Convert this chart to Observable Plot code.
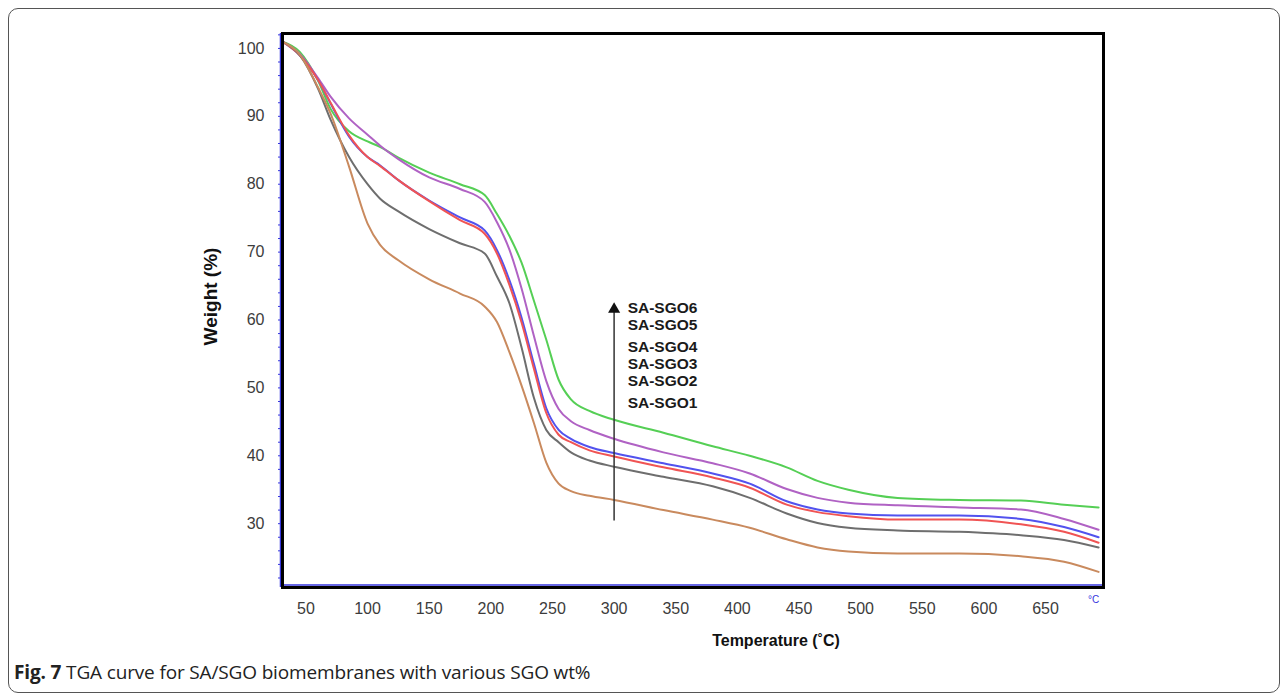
<!DOCTYPE html>
<html>
<head>
<meta charset="utf-8">
<script src="https://cdn.jsdelivr.net/npm/d3@7"></script>
<script src="https://cdn.jsdelivr.net/npm/@observablehq/plot@0.6"></script>
<style>
  html, body { margin: 0; padding: 0; background: #fff; }
  #figure { position: relative; width: 1287px; height: 699px; overflow: hidden; background: #fff; }
  #chart { position: absolute; left: 0; top: 0; }
  #card {
    position: absolute; left: 8px; top: 8px; width: 1272px; height: 685px; z-index: 2;
    border: 1.5px solid #555; border-radius: 10px; box-sizing: border-box; pointer-events: none;
  }
  #caption {
    position: absolute; left: 14px; top: 659px; z-index: 3;
    font-family: "Open Sans", "Noto Sans", sans-serif; font-size: 19px; color: #222;
    letter-spacing: -0.15px; white-space: nowrap;
  }
  #caption b { font-weight: 700; }
</style>
</head>
<body>
<div id="figure">
  <div id="chart"></div>
  <div id="card"></div>
  <div id="caption"><b>Fig. 7</b> TGA curve for SA/SGO biomembranes with various SGO wt%</div>
</div>
<script>
// Thermogravimetric curves: weight (%) against temperature (°C)
const temperature = [31, 45, 60, 70, 85, 100, 110, 125, 150, 175, 195, 205, 215, 225, 235, 245, 255, 265, 280, 300, 340, 380, 410, 440, 465, 490, 530, 580, 630, 665, 693];

const sgo6 = [101.0, 99.5, 95.2, 91.1, 87.8, 86.3, 85.5, 83.9, 81.7, 80.0, 78.4, 75.6, 72.4, 68.4, 62.8, 57.1, 51.2, 48.3, 46.6, 45.3, 43.4, 41.4, 40.0, 38.3, 36.3, 35.0, 33.8, 33.5, 33.4, 32.8, 32.4];
const sgo5 = [101.0, 99.2, 95.6, 92.9, 89.7, 87.3, 85.7, 83.7, 81.0, 79.3, 77.4, 74.4, 70.4, 64.6, 57.6, 51.0, 46.9, 45.1, 43.8, 42.5, 40.5, 38.9, 37.4, 35.1, 33.8, 33.1, 32.7, 32.4, 32.1, 30.7, 29.1];
const sgo4 = [101.0, 99.0, 95.3, 91.9, 87.0, 84.0, 82.8, 80.6, 77.6, 75.1, 73.2, 70.3, 65.9, 60.3, 53.5, 47.0, 43.8, 42.5, 41.3, 40.4, 38.9, 37.4, 35.9, 33.3, 32.1, 31.5, 31.2, 31.2, 30.7, 29.5, 28.0];
const sgo3 = [101.0, 99.0, 95.3, 92.0, 87.2, 84.0, 82.7, 80.6, 77.5, 74.7, 72.7, 69.8, 65.2, 59.6, 52.8, 46.3, 43.1, 42.0, 40.8, 39.9, 38.3, 36.8, 35.3, 32.8, 31.7, 31.1, 30.6, 30.6, 29.9, 28.8, 27.2];
const sgo2 = [101.0, 99.0, 94.0, 89.5, 84.0, 80.0, 77.9, 76.0, 73.4, 71.3, 69.8, 66.4, 62.5, 55.9, 48.5, 43.8, 42.0, 40.5, 39.3, 38.4, 36.9, 35.5, 33.8, 31.5, 30.1, 29.4, 29.0, 28.8, 28.3, 27.6, 26.5];
const sgo1 = [101.0, 99.1, 94.2, 90.4, 82.6, 74.2, 71.1, 68.8, 66.0, 63.9, 62.0, 59.7, 55.3, 50.3, 44.8, 39.0, 35.9, 34.8, 34.1, 33.5, 32.0, 30.6, 29.4, 27.7, 26.5, 25.9, 25.6, 25.6, 25.2, 24.4, 22.9];

const seriesNames = ["SA-SGO6", "SA-SGO5", "SA-SGO4", "SA-SGO3", "SA-SGO2", "SA-SGO1"];
const seriesValues = [sgo6, sgo5, sgo4, sgo3, sgo2, sgo1];
const seriesColors = ["#55cf55", "#b062c4", "#5252ee", "#f05454", "#6e6e6e", "#c98a5e"];

const xTicks = [50, 100, 150, 200, 250, 300, 350, 400, 450, 500, 550, 600, 650];
const yTicks = [30, 40, 50, 60, 70, 80, 90, 100];

// Annotation: arrow pointing towards increasing SGO content, with the sample names beside it
const arrowAt = {temperature: 300, from: 30.4, to: 61.6};
const labelAt = {temperature: 311, weights: [61.7, 59.2, 55.95, 53.55, 51.0, 47.7]};

const xDomain = [31, 697];
const yDomain = [20.6, 102.2];
const axisBlue = "#3535dd";

const rows = seriesNames.flatMap((name, s) =>
  temperature.map((t, i) => ({series: name, temperature: t, weight: seriesValues[s][i]}))
);
const labels = seriesNames.map((name, i) => ({name, weight: labelAt.weights[i]}));

const chart = Plot.plot({
  width: 1287,
  height: 650,
  marginLeft: 282,
  marginRight: 184,
  marginTop: 33,
  marginBottom: 63,
  x: {domain: xDomain, label: null},
  y: {domain: yDomain, label: null},
  color: {domain: seriesNames, range: seriesColors},
  style: {fontFamily: "'Liberation Sans', Arial, sans-serif", background: "transparent", overflow: "visible"},
  marks: [
    // blue inner axis lines
    Plot.ruleX([xDomain[0]], {stroke: axisBlue, strokeWidth: 1.5, dx: -2}),
    Plot.ruleY([yDomain[0]], {stroke: axisBlue, strokeWidth: 1.5, dy: -2.5}),
    // minor ticks
    Plot.axisY({ticks: d3.range(22, 103, 2), tickSize: 4, tickFormat: () => "", stroke: axisBlue, strokeWidth: 1, label: null}),
    Plot.axisX({ticks: d3.range(40, 700, 10), tickSize: 2, tickFormat: () => "", stroke: axisBlue, strokeWidth: 1, label: null}),
    // curves
    Plot.lineY(rows, {x: "temperature", y: "weight", z: "series", stroke: "series", strokeWidth: 2, curve: "monotone-x"}),
    // tick labels
    Plot.axisY({ticks: yTicks, tickSize: 0, tickPadding: 18, fontSize: 16, fill: "#3c3c3c", label: null}),
    Plot.axisX({ticks: xTicks, tickSize: 0, tickPadding: 15, fontSize: 16, fill: "#3c3c3c", label: null}),
    Plot.frame({stroke: "#000", strokeWidth: 3}),
    // axis titles
    Plot.text(["Temperature (˚C)"], {frameAnchor: "bottom", lineAnchor: "middle", textAnchor: "middle", dx: 83, dy: 53, fontSize: 16, fontWeight: "bold", fill: "#111"}),
    Plot.text(["Weight (%)"], {frameAnchor: "left", lineAnchor: "middle", textAnchor: "middle", dx: -72, dy: -14, rotate: -90, fontSize: 19, fontWeight: "bold", fill: "#111"}),
    Plot.text(["°C"], {frameAnchor: "bottom-right", lineAnchor: "middle", textAnchor: "middle", dx: -10, dy: 12, fontSize: 10, fill: axisBlue}),
    // arrow and sample names
    Plot.ruleX([arrowAt.temperature], {y1: arrowAt.from, y2: arrowAt.to, stroke: "#333", strokeWidth: 1.5}),
    Plot.dot([arrowAt], {x: "temperature", y: "to", symbol: "triangle", r: 4.5, fill: "#111", stroke: "none"}),
    Plot.text(labels, {x: labelAt.temperature, y: "weight", text: "name", textAnchor: "start", lineAnchor: "middle", fontSize: 15.5, fontWeight: "bold", fill: "#1a1a1a"})
  ]
});

document.getElementById("chart").appendChild(chart);
</script>
</body>
</html>
